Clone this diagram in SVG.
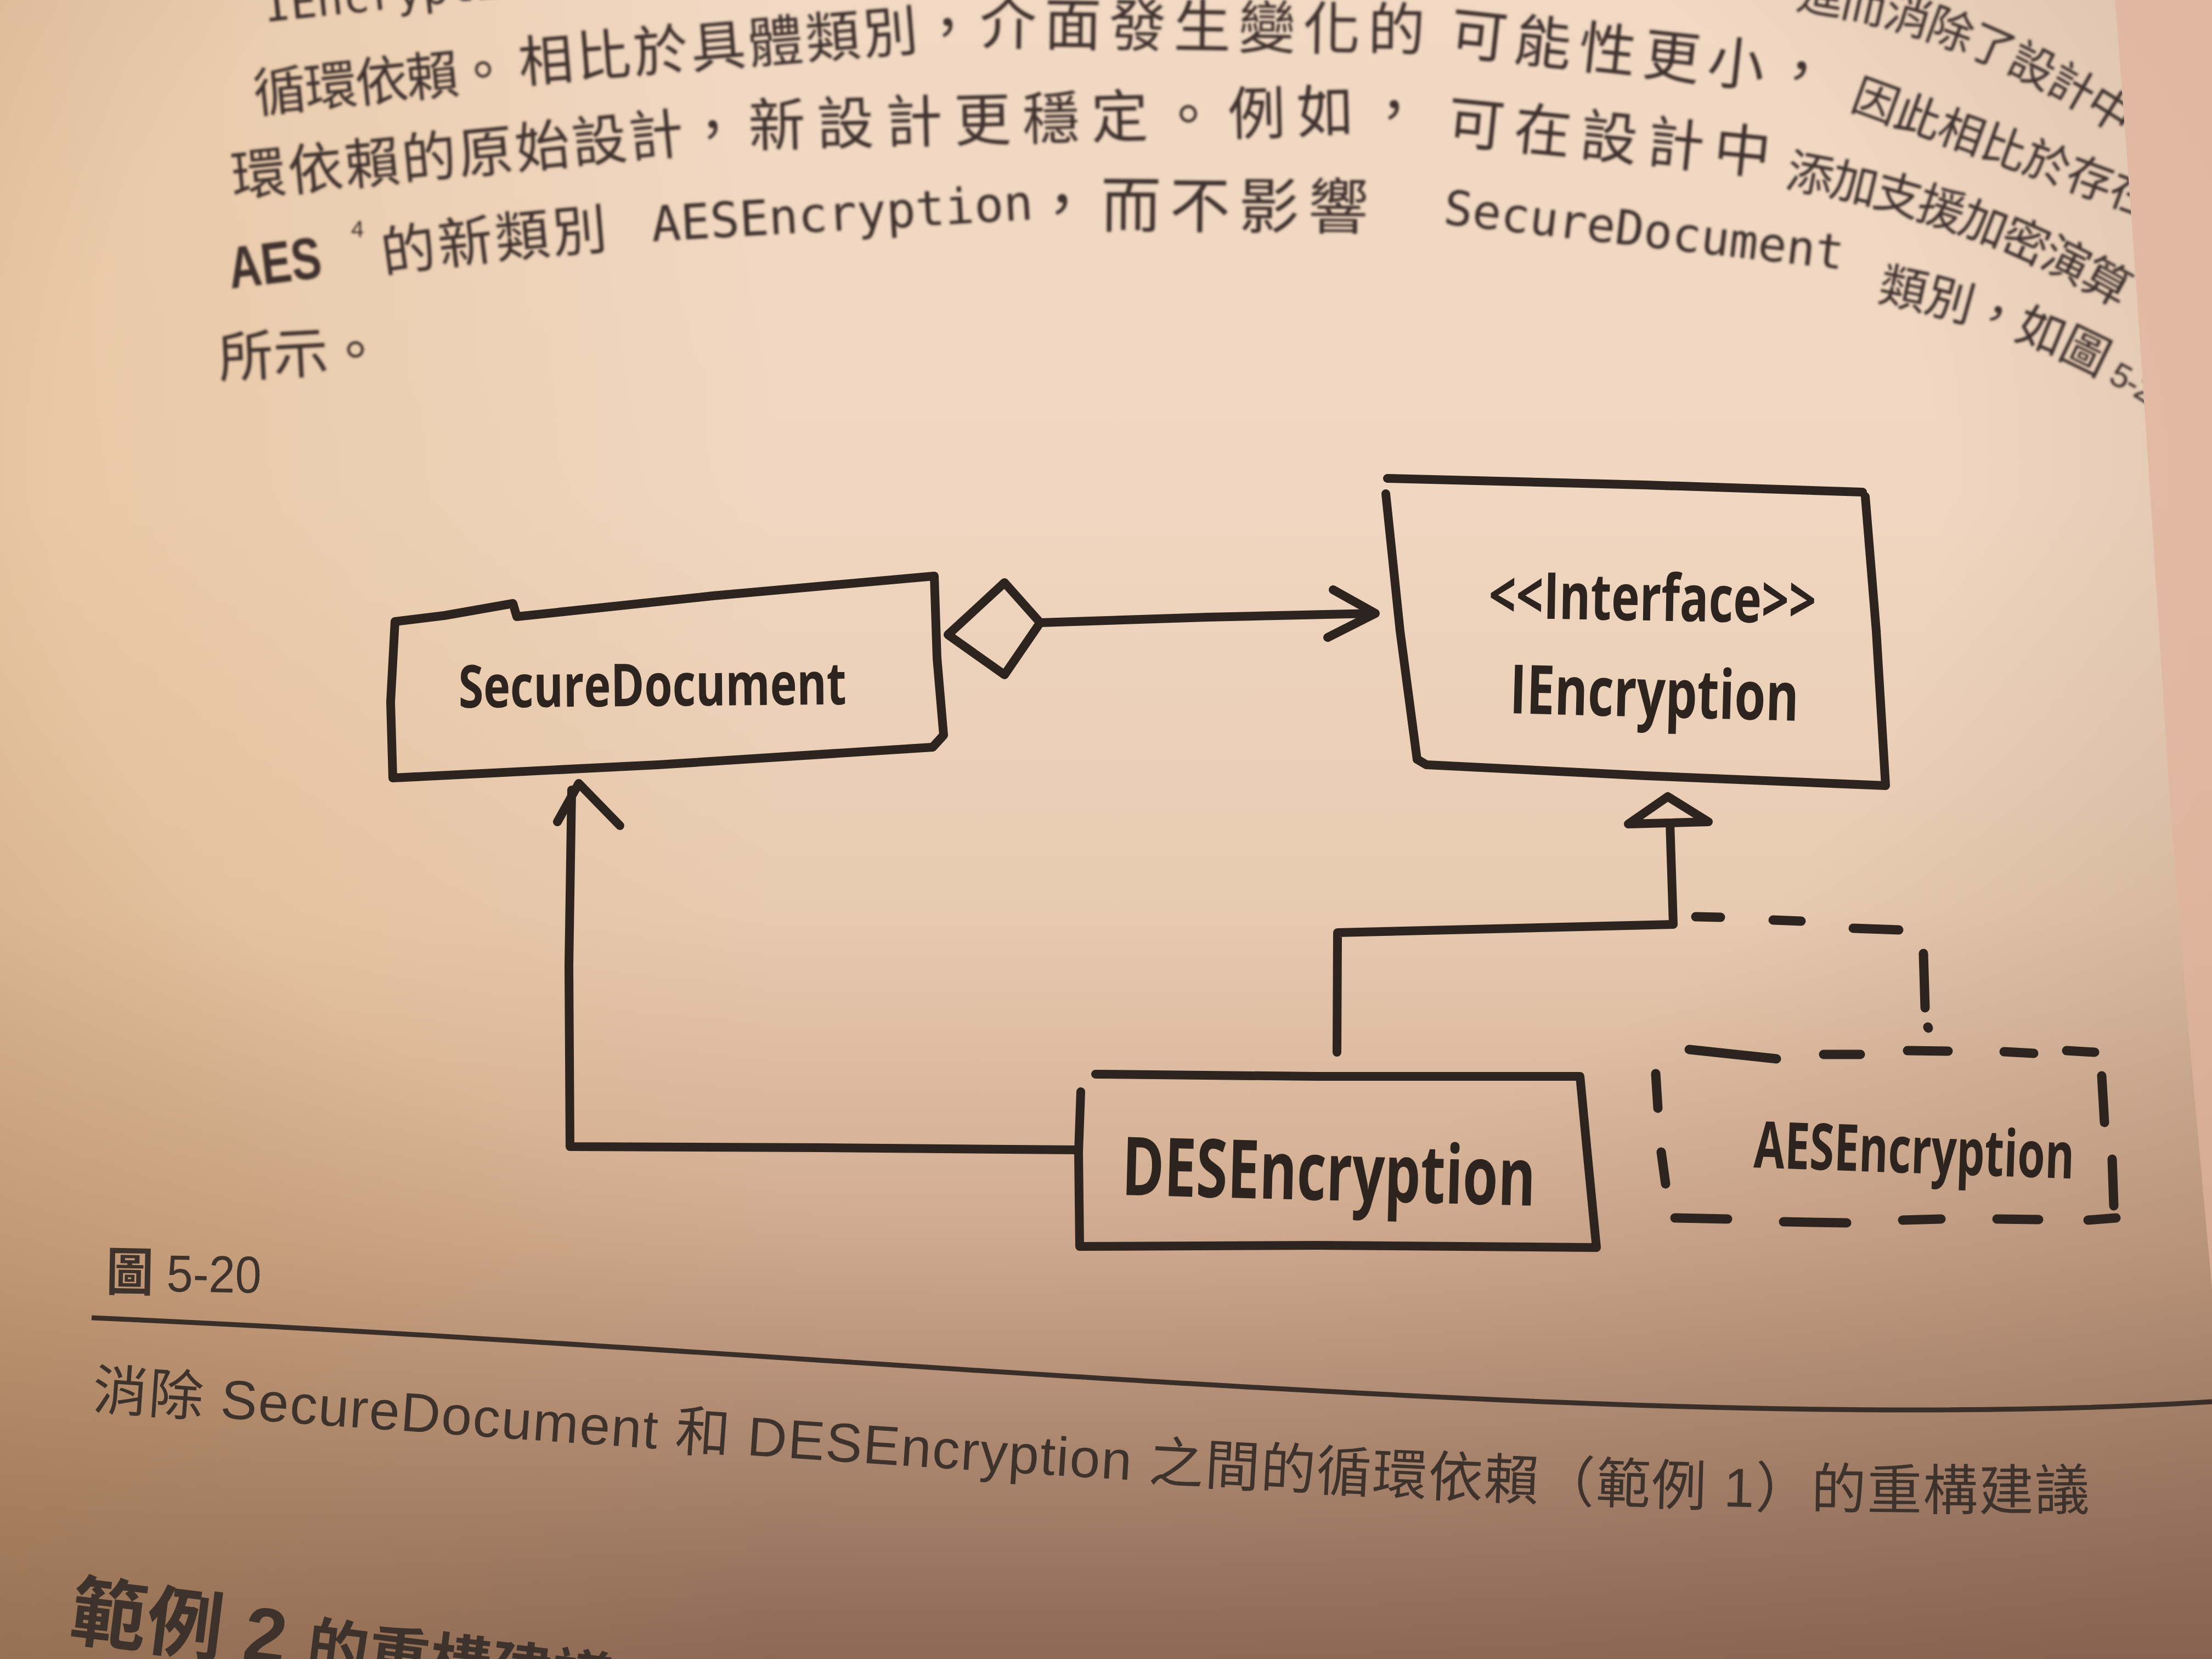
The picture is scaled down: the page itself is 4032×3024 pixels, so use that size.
<svg xmlns="http://www.w3.org/2000/svg" width="4032" height="3024" viewBox="0 0 4032 3024">
<defs>
  <linearGradient id="bgV" x1="0" y1="0" x2="0" y2="1">
    <stop offset="0" stop-color="#f1d9c4"/>
    <stop offset="0.3" stop-color="#f0d7c1"/>
    <stop offset="0.55" stop-color="#e8cab0"/>
    <stop offset="0.75" stop-color="#d0aa8e"/>
    <stop offset="1" stop-color="#997561"/>
  </linearGradient>
  <linearGradient id="bgL" x1="0" y1="0" x2="1" y2="0">
    <stop offset="0" stop-color="#d8a86c" stop-opacity="0.35"/>
    <stop offset="0.35" stop-color="#d8a86c" stop-opacity="0"/>
  </linearGradient>
  <radialGradient id="vign" cx="0.45" cy="0.3" r="0.85">
    <stop offset="0.5" stop-color="#5a3a28" stop-opacity="0"/>
    <stop offset="1" stop-color="#5a3a28" stop-opacity="0.3"/>
  </radialGradient>
  <clipPath id="page">
    <path d="M0 0 L3855 0 C3880 300 3920 900 3945 1300 C3970 1700 4010 2100 4032 2350 L4032 3024 L0 3024 Z"/>
  </clipPath>
  <filter id="soft" x="-5%" y="-5%" width="110%" height="110%">
    <feGaussianBlur stdDeviation="2.2"/>
  </filter>
  <path id="l0r" d="M3272 15 C3450 40 3650 100 3890 265"/>
  <path id="l2d" d="M3252 340 Q3600 398 3900 585"/>
  <path id="l3b" d="M700 498 Q900 468 1112 452"/>
  <path id="l3f" d="M3420 548 Q3700 600 3930 748"/>
  <path id="cap" d="M167 2568 C1500 2660 2800 2770 3900 2750"/>
  <style>
    .body { font-family: "Noto Sans CJK TC", "Noto Sans CJK SC", sans-serif; fill: #3f332d; }
    .mono { font-family: "DejaVu Sans Mono", "Liberation Mono", monospace; }
    .box { fill: none; stroke: #2d241f; stroke-width: 16; stroke-linecap: round; stroke-linejoin: round; }
    .dash { fill: none; stroke: #2d241f; stroke-width: 17; stroke-linecap: round; }
    .lbl { font-family: "Open Sans", "Noto Sans", sans-serif; font-weight: 700; fill: #2d241f; }
    .cap { font-family: "Liberation Sans", "Noto Sans CJK TC", sans-serif; fill: #3e322c; }
  </style>
</defs>

<!-- background page -->
<rect x="0" y="0" width="4032" height="3024" fill="url(#bgV)"/>
<rect x="0" y="0" width="4032" height="3024" fill="url(#bgL)"/>
<rect x="0" y="0" width="4032" height="3024" fill="url(#vign)"/>
<path d="M3855 0 C3880 300 3920 900 3945 1300 C3970 1700 4010 2100 4032 2350 L4032 0 Z" fill="#e0b39c" opacity="0.75"/>

<!-- body text -->
<g class="body" clip-path="url(#page)" filter="url(#soft)">
  <!-- line 0 (partly outside the photo) -->
  <text class="mono" x="484" y="40" font-size="80" transform="rotate(-6 484 40)">IEncryption</text>
  <text font-size="84" letter-spacing="-4"><textPath href="#l0r">進而消除了設計中</textPath></text>
  <!-- line 1 -->
  <text x="466" y="205" font-size="96" letter-spacing="-3" transform="rotate(-5.8 466 205)">循環依賴。</text>
  <text x="948" y="150" font-size="100" letter-spacing="5" transform="rotate(-4.7 948 150)">相比於具體類別，</text>
  <text x="1785" y="80" font-size="104" letter-spacing="14" transform="rotate(0.9 1785 80)">介面發生變化的</text>
  <text x="2640" y="96" font-size="104" letter-spacing="14" transform="rotate(6.3 2640 96)">可能性更小，</text>
  <text x="3370" y="198" font-size="84" letter-spacing="-1" transform="rotate(20 3370 198)">因此相比於存在</text>
  <!-- line 2 -->
  <text x="425" y="358" font-size="100" letter-spacing="4" transform="rotate(-5.6 425 358)">環依賴的原始設計，</text>
  <text x="1365" y="267" font-size="104" letter-spacing="21" transform="rotate(-1.4 1365 267)">新設計更穩定。例如，</text>
  <text x="2635" y="258" font-size="104" letter-spacing="18" transform="rotate(5.8 2635 258)">可在設計中</text>
  <text font-size="86" letter-spacing="-5"><textPath href="#l2d">添加支援加密演算</textPath></text>
  <!-- line 3 -->
  <text x="421" y="526" font-size="108" font-weight="bold" font-family="Liberation Sans, sans-serif" textLength="170" lengthAdjust="spacingAndGlyphs" transform="rotate(-7 421 526)">AES</text>
  <text x="640" y="432" font-size="42" font-family="Liberation Sans, sans-serif">4</text>
  <text font-size="100" letter-spacing="4"><textPath href="#l3b">的新類別</textPath></text>
  <text class="mono" x="1189" y="440" font-size="89" transform="rotate(-3.3 1189 440)">AESEncryption</text>
  <text x="1880" y="412" font-size="110" letter-spacing="16" transform="rotate(0.5 1880 412)">，而不影響</text>
  <text class="mono" x="2629" y="408" font-size="87" transform="rotate(6.5 2629 408)">SecureDocument</text>
  <text font-size="88" letter-spacing="-2"><textPath href="#l3f">類別，如圖 <tspan font-family="Liberation Sans, sans-serif" font-size="62">5-2</tspan></textPath></text>
  <!-- line 4 -->
  <text x="400" y="688" font-size="100" transform="rotate(-3 400 688)">所示。</text>
</g>

<!-- diagram nodes -->
<g id="node-securedocument">
  <path class="box" d="M720 1133 L810 1122 L935 1100 L942 1124 L1300 1086 L1703 1050 L1708 1200 L1720 1340 L1700 1362 L1200 1394 L716 1418 L712 1280 Z"/>
  <text class="lbl" x="836" y="1290" font-size="108" textLength="707" lengthAdjust="spacingAndGlyphs" transform="rotate(-0.5 836 1290)">SecureDocument</text>
</g>

<g id="node-iencryption">
  <path class="box" d="M2529 872 L3000 884 L3395 897"/>
  <path class="box" d="M3400 905 L3420 1150 L3437 1432 L3000 1414 L2600 1394 L2583 1384"/>
  <path class="box" d="M2583 1384 L2552 1150 L2526 900"/>
  <text class="lbl" x="2713" y="1126" font-size="118" textLength="597" lengthAdjust="spacingAndGlyphs" transform="rotate(1 2713 1126)">&lt;&lt;Interface&gt;&gt;</text>
  <text class="lbl" x="2751" y="1300" font-size="124" textLength="527" lengthAdjust="spacingAndGlyphs" transform="rotate(1.5 2751 1300)">IEncryption</text>
</g>

<g id="node-desencryption">
  <path class="box" d="M1997 1958 L2400 1962 L2880 1962 L2895 2120 L2910 2274 L2400 2270 L1968 2272 L1966 2100 L1970 1990"/>
  <text class="lbl" x="2044" y="2178" font-size="148" textLength="754" lengthAdjust="spacingAndGlyphs" transform="rotate(1.5 2044 2178)">DESEncryption</text>
</g>

<g id="node-aesencryption">
  <g class="dash">
    <path d="M3079 1913 L3238 1930"/>
    <path d="M3324 1922 L3391 1922"/>
    <path d="M3477 1915 L3551 1916"/>
    <path d="M3653 1917 L3707 1920"/>
    <path d="M3767 1915 L3818 1918"/>
    <path d="M3018 1957 L3022 2020"/>
    <path d="M3028 2100 L3036 2158"/>
    <path d="M3831 1961 L3836 2046"/>
    <path d="M3850 2113 L3853 2198"/>
    <path d="M3053 2220 L3149 2222"/>
    <path d="M3251 2227 L3366 2229"/>
    <path d="M3468 2224 L3538 2222"/>
    <path d="M3640 2222 L3716 2223"/>
    <path d="M3806 2224 L3857 2220"/>
  </g>
  <text class="lbl" x="3196" y="2128" font-size="118" textLength="584" lengthAdjust="spacingAndGlyphs" transform="rotate(2 3196 2128)">AESEncryption</text>
</g>

<!-- connectors -->
<g id="connectors">
  <path class="box" d="M1728 1157 L1831 1062 L1896 1135 L1831 1230 Z"/>
  <path class="box" d="M1896 1135 L2200 1125 L2505 1118"/>
  <path class="box" d="M2430 1075 L2507 1118 L2420 1162"/>
  <path class="box" d="M3040 1452 L2968 1502 L3114 1498 Z"/>
  <path class="box" d="M3044 1500 L3050 1685 L2438 1700 L2437 1918"/>
  <g class="dash">
    <path d="M3091 1671 L3136 1672"/>
    <path d="M3232 1677 L3283 1679"/>
    <path d="M3378 1692 L3461 1695"/>
    <path d="M3506 1738 L3509 1837"/>
    <path d="M3514 1872 L3515 1874"/>
  </g>
  <path class="box" d="M1966 2096 L1500 2092 L1039 2090 L1037 1760 L1042 1440"/>
  <path class="box" d="M1016 1498 L1055 1428 L1130 1505"/>
</g>

<!-- caption -->
<g id="caption">
  <text class="cap" x="193" y="2352" font-size="95" textLength="283" lengthAdjust="spacingAndGlyphs" transform="rotate(1 193 2352)"><tspan font-family="Noto Sans CJK TC, sans-serif" font-weight="bold">圖</tspan> 5-20</text>
  <path d="M167 2402 C1500 2460 3000 2620 4032 2555" fill="none" stroke="#3a2e28" stroke-width="9"/>
  <text class="cap" font-size="100" letter-spacing="2"><textPath href="#cap">消除 SecureDocument 和 DESEncryption 之間的循環依賴（範例 1）的重構建議</textPath></text>
  <text class="cap" x="123" y="2985" font-size="140" font-weight="bold" font-family="Noto Sans CJK TC, sans-serif" transform="rotate(7 123 2985)">範例 2 <tspan font-size="112">的重構建議</tspan></text>
</g>
</svg>
